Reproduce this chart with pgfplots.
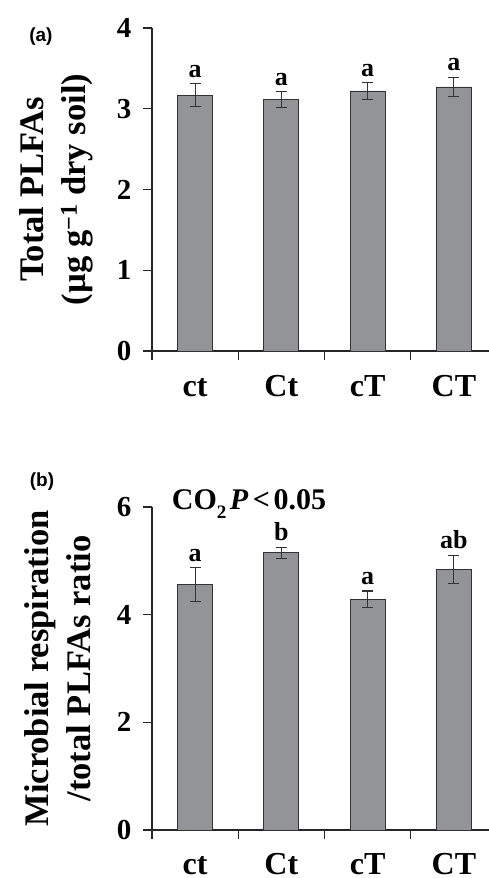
\documentclass[border=0pt]{standalone}
\usepackage{fontspec}
\setmainfont{Liberation Serif}
\newfontfamily\labfont{Liberation Sans}
\usepackage{pgfplots}
\pgfplotsset{compat=1.18}
\definecolor{barg}{RGB}{147,148,152}
\definecolor{edge}{RGB}{50,50,50}

\pgfplotsset{
  panel/.style={
    scale only axis,
    width=345pt,
    xmin=0, xmax=4, ymin=0,
    enlargelimits=false,
    clip=false,
    axis lines=left,
    axis line style={-, line width=1.2pt, draw=black!85},
    tick align=outside,
    major tick length=9pt,
    every tick/.style={line width=1.2pt, black!85},
    xtick={0,1,2,3,4},
    xticklabels={},
    extra x ticks={0.5,1.5,2.5,3.5},
    extra x tick labels={ct,Ct,cT,CT},
    extra x tick style={major tick length=0pt, tick style={draw=none}},
    xticklabel style={font=\bfseries\fontsize{32}{32}\selectfont, anchor=base, inner sep=0pt, yshift=-46pt},
    yticklabel style={font=\bfseries\fontsize{29}{29}\selectfont, xshift=-8pt},
    /pgf/number format/assume math mode=true,
    ylabel style={font=\bfseries\fontsize{34.5}{42}\selectfont, align=center, anchor=center},
    ybar, bar width=35pt,
  },
  barstyle/.style={
    fill=barg, draw=edge, line width=0.8pt,
    error bars/.cd, y dir=both, y explicit,
    error bar style={line width=1.1pt, edge},
    error mark options={rotate=90, mark size=5.5pt, line width=1.1pt, edge},
  },
}
\tikzset{letter/.style={anchor=south, inner sep=0pt, yshift=6pt, font=\bfseries\fontsize{26}{26}\selectfont}}

\begin{document}
\begin{tikzpicture}
\useasboundingbox (0,0) rectangle (488pt,878pt);

% (a) total PLFAs
\begin{axis}[panel,
    at={(152pt,527pt)}, anchor=south west,
    height=323pt, ymax=4,
    ytick={0,1,2,3,4},
    ylabel={Total PLFAs\\(µg g\textsuperscript{−1} dry soil)},
    ylabel style={at={(axis description cs:-0.276,0.5)}},
  ]
  \addplot[barstyle] coordinates {
    (0.5,3.17) +- (0,0.14)
    (1.5,3.11) +- (0,0.10)
    (2.5,3.22) +- (0,0.10)
    (3.5,3.27) +- (0,0.12)
  };
  \node[letter] at (axis cs:0.5,3.31) {a};
  \node[letter] at (axis cs:1.5,3.21) {a};
  \node[letter] at (axis cs:2.5,3.32) {a};
  \node[letter] at (axis cs:3.5,3.39) {a};
  \node[font=\labfont\bfseries\fontsize{19}{19}\selectfont] at (axis description cs:-0.322,0.972) {(a)};
\end{axis}

% (b) respiration / PLFAs ratio
\begin{axis}[panel,
    at={(152pt,48pt)}, anchor=south west,
    height=323pt, ymax=6,
    ytick={0,2,4,6},
    xticklabel style={yshift=2pt},
    ylabel={Microbial respiration\\/total PLFAs ratio},
    ylabel style={at={(axis description cs:-0.272,0.5)}},
  ]
  \addplot[barstyle] coordinates {
    (0.5,4.56) +- (0,0.31)
    (1.5,5.15) +- (0,0.10)
    (2.5,4.29) +- (0,0.15)
    (3.5,4.84) +- (0,0.26)
  };
  \node[letter] at (axis cs:0.5,4.87) {a};
  \node[letter] at (axis cs:1.5,5.26) {b};
  \node[letter] at (axis cs:2.5,4.44) {a};
  \node[letter] at (axis cs:3.5,5.10) {ab};
  \node[anchor=base west, inner sep=0pt, font=\bfseries\fontsize{30}{30}\selectfont]
    at (rel axis cs:0.057,0.993) {CO\raisebox{-9pt}{\fontsize{19}{19}\selectfont 2}\hspace{0.12em}\textit{P}\hspace{0.15em}<\hspace{0.12em}0.05};
  \node[font=\labfont\bfseries\fontsize{19}{19}\selectfont] at (rel axis cs:-0.319,1.08) {(b)};
\end{axis}
\end{tikzpicture}
\end{document}
